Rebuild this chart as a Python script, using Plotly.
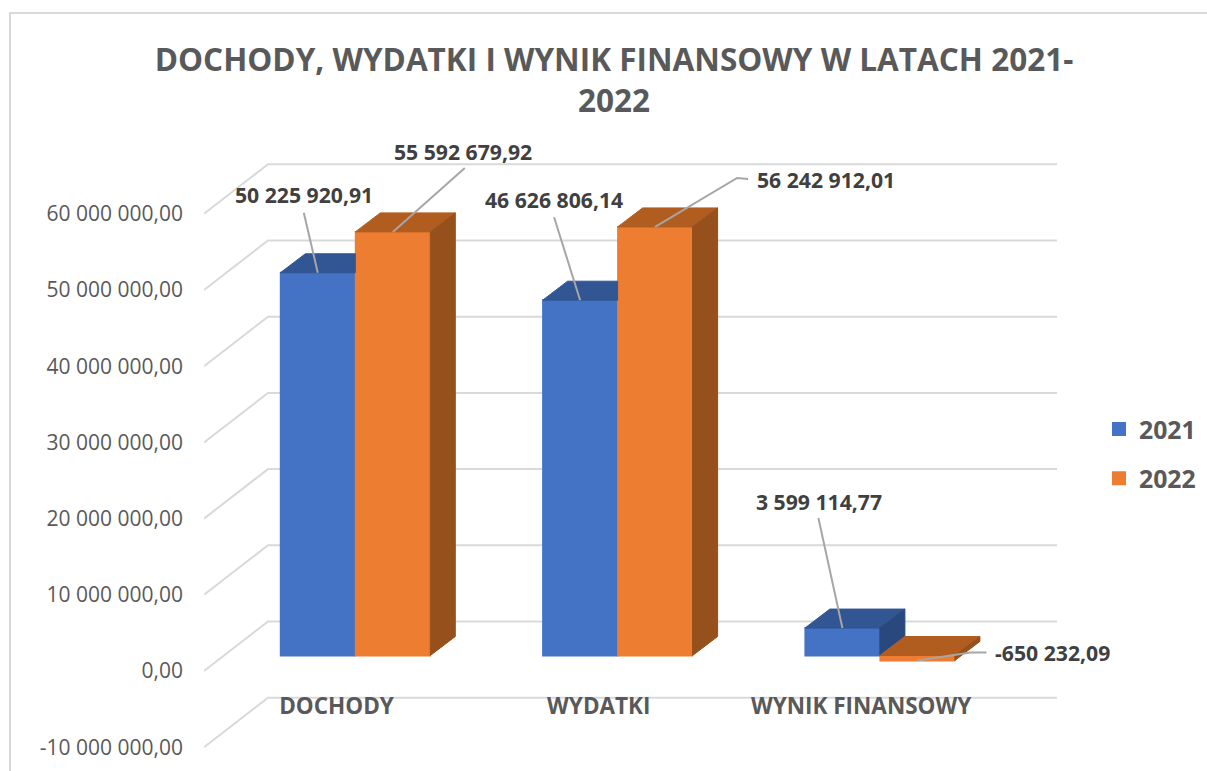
import plotly.graph_objects as go

categories = ["DOCHODY", "WYDATKI", "WYNIK FINANSOWY"]
series_names = ["2021", "2022"]
values_2021 = [50225920.91, 46626806.14, 3599114.77]
values_2022 = [55592679.92, 56242912.01, -650232.09]
y_ticks = [-10000000, 0, 10000000, 20000000, 30000000, 40000000, 50000000, 60000000]
y_tick_labels = ["-10 000 000,00", "0,00", "10 000 000,00", "20 000 000,00",
                 "30 000 000,00", "40 000 000,00", "50 000 000,00", "60 000 000,00"]
title_text = "DOCHODY, WYDATKI I WYNIK FINANSOWY W LATACH 2021-<br>2022"

W, H = 1207, 771
# projection scale (pixels)
X0, XSTEP = 336.5, 262.3
Y0, YSCALE = 671.0, 7.62e-6
DEPTH_X, DEPTH_Y = 64.0, 49.5      # wall depth
BAR_DX, BAR_DY = 18.8, 15.5        # bar front plane
SIDE_DX, SIDE_DY = 25.0, 19.0      # bar depth
BAR_W = 75.0
PLOT_L, PLOT_R, PLOT_T, PLOT_B = 204.0, 1060.0, 135.0, 765.0
GRID_R = 1057.0

def ux(px):
    return px / XSTEP
def uy(px):
    return px / YSCALE
def x_of(px):
    return (px - X0) / XSTEP
def y_of(py):
    return (Y0 - py) / YSCALE

BLUE, ORANGE, GRID = "#4472C4", "#ED7D31", "#D9D9D9"
TOP = {0: "#325694", 1: "#B25D20"}
SIDE = {0: "#29487D", 1: "#96501C"}
FRONT = {0: BLUE, 1: ORANGE}
series = [values_2021, values_2022]
FONT = "Open Sans"

fig = go.Figure()
base = uy(BAR_DY)
for s, vals in enumerate(series):
    xs = [i + ux(BAR_DX) + (s - 0.5) * ux(BAR_W) for i in range(len(categories))]
    fig.add_trace(go.Bar(
        x=xs, y=vals, base=[base] * len(vals), width=ux(BAR_W - 1), name=series_names[s],
        legendgroup=series_names[s],
        marker=dict(color=FRONT[s], line=dict(color=FRONT[s], width=2)),
    ))

def poly(pts, color):
    fig.add_trace(go.Scatter(
        x=[p[0] for p in pts] + [pts[0][0]], y=[p[1] for p in pts] + [pts[0][1]],
        mode="lines", fill="toself", fillcolor=color, line=dict(color=color, width=1),
        showlegend=False, hoverinfo="skip"))

sx, sy = ux(SIDE_DX), uy(SIDE_DY)
for i in range(len(categories)):
    for s, vals in enumerate(series):
        v = vals[i]
        xl = i + ux(BAR_DX) + (s - 1) * ux(BAR_W)
        xr = xl + ux(BAR_W)
        hi, lo = base + max(v, 0), base + min(v, 0)
        hidden = s == 0 and series[1][i] >= v
        if hidden:
            poly([(xl, hi), (xr, hi), (xr, hi + sy), (xl + sx, hi + sy)], TOP[s])
        else:
            poly([(xl, hi), (xr, hi), (xr + sx, hi + sy), (xl + sx, hi + sy)], TOP[s])
            poly([(xr, lo), (xr, hi), (xr + sx, hi + sy), (xr + sx, lo + sy)], SIDE[s])

# label offsets from the bar's front-top centre, pixels (dx right, dy down)
label_off = {
    (0, 0): dict(t=(-14, -78), l=[(-14, -60), (0, 0)]),
    (1, 0): dict(t=(70, -80), l=[(72, -64), (0, 0)]),
    (0, 1): dict(t=(-26, -101), l=[(-26, -83), (0, 0)]),
    (1, 1): dict(t=(171, -47), l=[(93, -48), (82, -49), (0, 0)]),
    (0, 2): dict(t=(-23, -127), l=[(-24, -110), (0, 0)]),
    (1, 2): dict(t=(135, -8), l=[(69, -8), (53, -8), (0, 0)]),
}
annotations = []
for (s, i), o in label_off.items():
    v = series[s][i]
    cx = i + ux(BAR_DX) + (s - 0.5) * ux(BAR_W)
    cy = base + v
    fig.add_trace(go.Scatter(
        x=[cx + ux(p[0]) for p in o["l"]], y=[cy - uy(p[1]) for p in o["l"]],
        mode="lines", line=dict(color="#A6A6A6", width=2), showlegend=False, hoverinfo="skip"))
    txt = f"{v:,.2f}".replace(",", " ").replace(".", ",")
    annotations.append(dict(
        x=cx, y=cy, xref="x", yref="y", text=txt, showarrow=False,
        xshift=o["t"][0], yshift=-o["t"][1], xanchor="center", yanchor="middle",
        font=dict(family=FONT, size=21.2, color="#404040", weight="bold")))

shapes = []
for t in y_ticks:
    xa, xb, xc = x_of(PLOT_L), x_of(PLOT_L + DEPTH_X), x_of(GRID_R)
    ya, yb = t, t + uy(DEPTH_Y)
    shapes.append(dict(type="path", layer="below", xref="x", yref="y",
                       path=f"M{xa},{ya} L{xb},{yb} L{xc},{yb}",
                       line=dict(color=GRID, width=2)))
shapes.append(dict(type="path", layer="below", xref="paper", yref="paper",
                   path=f"M{10/W},0 L{10/W},{1-13/H} L1,{1-13/H}",
                   line=dict(color="#D9D9D9", width=2)))

fig.update_layout(
    width=W, height=H, autosize=False,
    paper_bgcolor="white", plot_bgcolor="rgba(0,0,0,0)",
    margin=dict(l=0, r=0, t=0, b=0),
    barmode="overlay",
    title=dict(text=title_text, x=614 / W, xanchor="center", xref="paper",
               y=1 - 71 / H, yanchor="top", yref="paper",
               font=dict(family=FONT, size=31.5, color="#595959", weight="bold")),
    xaxis=dict(domain=[PLOT_L / W, PLOT_R / W], range=[x_of(PLOT_L), x_of(PLOT_R)],
               tickmode="array", tickvals=list(range(len(categories))), ticktext=categories,
               showgrid=False, zeroline=False, showline=False, ticks="",
               tickangle=0, anchor="free", position=1 - 690 / H,
               tickfont=dict(family=FONT, size=22.5, color="#595959", weight="bold")),
    yaxis=dict(domain=[1 - PLOT_B / H, 1 - PLOT_T / H], range=[y_of(PLOT_B), y_of(PLOT_T)],
               tickmode="array", tickvals=y_ticks, ticktext=y_tick_labels,
               showgrid=False, zeroline=False, showline=False, ticks="",
               ticklabelstandoff=20,
               tickfont=dict(family=FONT, size=21, color="#595959")),
    legend=dict(x=1099 / W, xanchor="left", y=1 - 454 / H, yanchor="middle",
                tracegroupgap=14, traceorder="grouped", bgcolor="rgba(0,0,0,0)",
                font=dict(family=FONT, size=24.8, color="#595959", weight="bold")),
    shapes=shapes, annotations=annotations,
)
fig.write_html("out.html", config={"displayModeBar": False},
               post_script="document.body.style.margin='0';")
